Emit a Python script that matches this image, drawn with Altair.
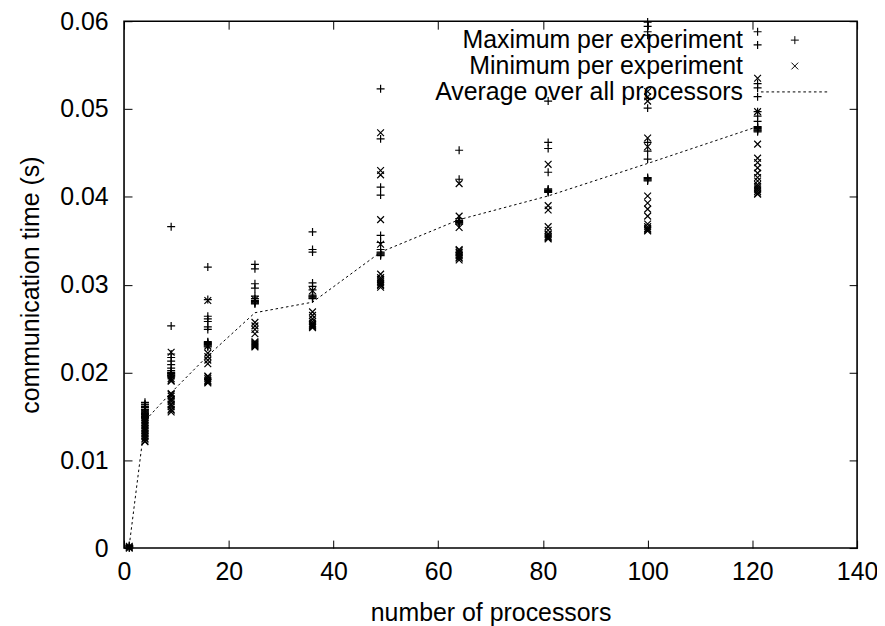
import altair as alt
import pandas as pd

# ---- data ----
procs = [1, 4, 9, 16, 25, 36, 49, 64, 81, 100, 121]

max_vals = [
    [0.0003, 0.0002, 0.0001, 0.0000],
    [0.0166, 0.0164, 0.0163, 0.0161, 0.0160, 0.0158, 0.0157, 0.0156, 0.0154, 0.0153, 0.0152,
     0.0150, 0.0149, 0.0148],
    [0.0366, 0.0253, 0.0221, 0.0217, 0.0213, 0.0209, 0.0205, 0.0202, 0.0200, 0.0199, 0.0198,
     0.0197, 0.0196, 0.0195],
    [0.0320, 0.0283, 0.0264, 0.0261, 0.0258, 0.0252, 0.0249, 0.0235, 0.0234, 0.0233, 0.0232,
     0.0231, 0.0230, 0.0229],
    [0.0323, 0.0318, 0.0301, 0.0296, 0.0287, 0.0284, 0.0282, 0.0281, 0.0280, 0.0279, 0.0278],
    [0.0360, 0.0340, 0.0337, 0.0302, 0.0298, 0.0294, 0.0288, 0.0287, 0.0286, 0.0285, 0.0284],
    [0.0523, 0.0466, 0.0411, 0.0402, 0.0356, 0.0348, 0.0340, 0.0337, 0.0336, 0.0335, 0.0334,
     0.0333],
    [0.0453, 0.0420, 0.0375, 0.0373, 0.0372, 0.0371, 0.0370, 0.0369],
    [0.0509, 0.0462, 0.0455, 0.0428, 0.0409, 0.0408, 0.0407, 0.0406, 0.0405],
    [0.0599, 0.0594, 0.0588, 0.0584, 0.0501, 0.0462, 0.0452, 0.0443, 0.0422, 0.0421, 0.0420,
     0.0419, 0.0418],
    [0.0588, 0.0573, 0.0529, 0.0524, 0.0514, 0.0497, 0.0492, 0.0486, 0.0480, 0.0479, 0.0478,
     0.0477, 0.0476, 0.0475, 0.0474],
]

min_vals = [
    [0.0002, 0.0001, 0.0000],
    [0.0154, 0.0152, 0.0151, 0.0149, 0.0148, 0.0146, 0.0145, 0.0143, 0.0142, 0.0140, 0.0139,
     0.0137, 0.0136, 0.0134, 0.0133, 0.0131, 0.0130, 0.0128, 0.0127, 0.0125, 0.0124, 0.0122,
     0.0121],
    [0.0223, 0.0196, 0.0193, 0.0191, 0.0190, 0.0176, 0.0175, 0.0173, 0.0170, 0.0169, 0.0167,
     0.0164, 0.0163, 0.0161, 0.0158, 0.0157, 0.0155],
    [0.0282, 0.0230, 0.0222, 0.0218, 0.0214, 0.0210, 0.0196, 0.0195, 0.0193, 0.0191, 0.0190,
     0.0189, 0.0188],
    [0.0283, 0.0257, 0.0253, 0.0249, 0.0244, 0.0235, 0.0234, 0.0233, 0.0232, 0.0231, 0.0230,
     0.0229],
    [0.0293, 0.0269, 0.0265, 0.0261, 0.0258, 0.0256, 0.0255, 0.0254, 0.0253, 0.0252, 0.0251],
    [0.0473, 0.0430, 0.0425, 0.0374, 0.0346, 0.0312, 0.0308, 0.0306, 0.0304, 0.0302, 0.0300,
     0.0299, 0.0297],
    [0.0415, 0.0378, 0.0365, 0.0340, 0.0339, 0.0337, 0.0336, 0.0334, 0.0333, 0.0331, 0.0330,
     0.0328],
    [0.0437, 0.0390, 0.0385, 0.0366, 0.0362, 0.0358, 0.0357, 0.0355, 0.0354, 0.0353, 0.0352],
    [0.0520, 0.0514, 0.0509, 0.0467, 0.0457, 0.0401, 0.0393, 0.0386, 0.0378, 0.0369, 0.0366,
     0.0364, 0.0363, 0.0362, 0.0361],
    [0.0535, 0.0497, 0.0460, 0.0444, 0.0439, 0.0433, 0.0427, 0.0422, 0.0418, 0.0414, 0.0412,
     0.0410, 0.0408, 0.0406, 0.0404, 0.0403],
]

avg_vals = [0.0003, 0.0145, 0.0177, 0.0219, 0.0268, 0.0280, 0.0337, 0.0374, 0.0401, 0.0438, 0.0480]

series_names = ["Maximum per experiment", "Minimum per experiment", "Average over all processors"]
x_ticks = [0, 20, 40, 60, 80, 100, 120, 140]
y_ticks = [0, 0.01, 0.02, 0.03, 0.04, 0.05, 0.06]

# ---- tables ----
rows = []
for p, vs in zip(procs, max_vals):
    for v in vs:
        rows.append({"procs": p, "time": v, "series": series_names[0]})
for p, vs in zip(procs, min_vals):
    for v in vs:
        rows.append({"procs": p, "time": v, "series": series_names[1]})
points_df = pd.DataFrame(rows)
avg_df = pd.DataFrame({"procs": procs, "time": avg_vals})

# ---- symbol shapes (gnuplot-like) ----
PLUS = "M-1,0L1,0M0,-1L0,1"
CROSS = "M-0.85,-0.85L0.85,0.85M-0.85,0.85L0.85,-0.85"
segs = []
pos = -8.5
while pos < 8.5:
    end = min(pos + 0.65, 8.5)
    segs.append(f"M{pos:.3f},0L{end:.3f},0")
    pos += 1.33
DOTLINE = "".join(segs)

FONT = "Liberation Sans"
FS = 25
W, H = 736, 529

x_scale = alt.Scale(domain=[0, 140], nice=False, zero=False)
y_scale = alt.Scale(domain=[0, 0.06], nice=False, zero=False)

points = alt.Chart(points_df).mark_point(
    filled=False, size=64, strokeWidth=1.2, color="black", opacity=1, clip=False
).encode(
    x=alt.X("procs:Q", scale=x_scale,
            axis=alt.Axis(orient="bottom", offset=-8, tickSize=8, tickWidth=1, tickColor="black",
                          domain=False, grid=False, values=x_ticks, labelPadding=12,
                          format="d", title="number of processors", titlePadding=16,
                          labelFlush=False)),
    y=alt.Y("time:Q", scale=y_scale,
            axis=alt.Axis(orient="left", offset=-8, tickSize=8, tickWidth=1, tickColor="black",
                          domain=False, grid=False, values=y_ticks, labelPadding=16,
                          labelExpr="datum.value == 0 ? '0' : format(datum.value, '.2f')",
                          title="communication time (s)", titlePadding=16,
                          labelFlush=False)),
    shape=alt.Shape("series:N",
                    scale=alt.Scale(domain=series_names, range=[PLUS, CROSS, DOTLINE]),
                    legend=alt.Legend(orient="none", legendX=661, legendY=6.5, title=None,
                                      labelAlign="right", labelOffset=alt.ExprRef("-64.5"),
                                      symbolOffset=0, labelLimit=0,
                                      symbolSize=64, symbolStrokeWidth=1, symbolStrokeColor="black",
                                      symbolFillColor="transparent",
                                      rowPadding=alt.ExprRef("-1.2"),
                                      labelFont=FONT, labelFontSize=FS, labelColor="black",
                                      padding=0)),
)

line = alt.Chart(avg_df).mark_line(
    color="black", strokeWidth=1, strokeDash=[2.5, 2.8]
).encode(
    x=alt.X("procs:Q", scale=x_scale,
            axis=alt.Axis(orient="top", offset=-8, tickSize=8, tickWidth=1, tickColor="black",
                          labels=False, domain=False, grid=False, values=x_ticks, title=None)),
    y=alt.Y("time:Q", scale=y_scale,
            axis=alt.Axis(orient="right", offset=-8, tickSize=8, tickWidth=1, tickColor="black",
                          labels=False, domain=False, grid=False, values=y_ticks, title=None)),
)

chart = alt.layer(points, line).properties(
    width=W, height=H,
    autosize=alt.AutoSizeParams(type="none"),
    padding={"left": 116.5, "top": 12, "right": 20, "bottom": 77},
    background="white",
).configure_view(
    stroke="black", strokeWidth=1.6
).configure_axis(
    labelFont=FONT, labelFontSize=FS, labelColor="black",
    titleFont=FONT, titleFontSize=FS, titleFontWeight="normal", titleColor="black",
)

chart.save("out.html", embed_options={"renderer": "svg", "actions": False})
